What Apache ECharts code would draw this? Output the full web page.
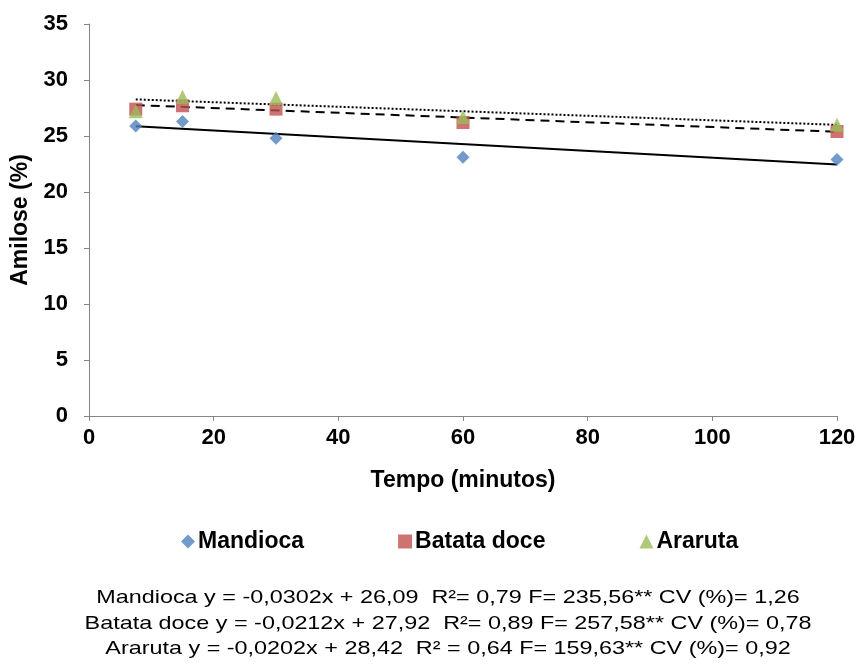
<!DOCTYPE html>
<html><head><meta charset="utf-8">
<script src="https://cdn.jsdelivr.net/npm/echarts@6/dist/echarts.min.js"></script>
<style>html,body{margin:0;padding:0;background:#fff}#c{width:859px;height:664px}</style>
</head><body><div id="c"></div>
<script>
const times = [7.5, 15, 30, 60, 120];
const mandioca = [25.9, 26.3, 24.8, 23.1, 22.9];
const batataDoce = [27.4, 27.7, 27.4, 26.2, 25.4];
const araruta = [27.2, 28.5, 28.4, 26.7, 26.0];
const seriesNames = ['Mandioca', 'Batata doce', 'Araruta'];
const slopes = [-0.0302, -0.0212, -0.0202];
const intercepts = [26.09, 27.92, 28.42];
const xTicks = [0, 20, 40, 60, 80, 100, 120];
const yTicks = [0, 5, 10, 15, 20, 25, 30, 35];
const equations = [
  'Mandioca y = -0,0302x + 26,09  R²= 0,79 F= 235,56** CV (%)= 1,26',
  'Batata doce y = -0,0212x + 27,92  R²= 0,89 F= 257,58** CV (%)= 0,78',
  'Araruta y = -0,0202x + 28,42  R² = 0,64 F= 159,63** CV (%)= 0,92'
];

const FONT = "'Liberation Sans', Arial, sans-serif";
const colors = ['#4F81BD', '#C0504D', '#9BBB59'];
const symbols = ['diamond', 'rect', 'triangle'];
const symSizes = [13, 13, 14];
const lineTypes = ['solid', [9, 6], [2, 2]];
const values = [mandioca, batataDoce, araruta];

const series = [];
values.forEach((v, i) => {
  series.push({
    name: seriesNames[i], type: 'scatter', symbol: symbols[i], symbolSize: symSizes[i],
    itemStyle: { color: colors[i] }, z: 3,
    data: times.map((t, j) => [t, v[j]])
  });
});
values.forEach((v, i) => {
  const x0 = times[0], x1 = times[times.length - 1];
  series.push({
    name: seriesNames[i] + ' trend', type: 'line', symbol: 'none', silent: true, z: 2,
    lineStyle: { color: '#000', width: 2, type: lineTypes[i] },
    data: [[x0, slopes[i] * x0 + intercepts[i]], [x1, slopes[i] * x1 + intercepts[i]]]
  });
});

const chart = echarts.init(document.getElementById('c'), null, { renderer: 'canvas' });
chart.setOption({
  animation: false,
  backgroundColor: '#fff',
  grid: { left: 89, right: 22, top: 24, bottom: 248, containLabel: false, outerBoundsMode: 'none' },
  xAxis: {
    type: 'value', min: 0, max: 120, interval: 20,
    name: 'Tempo (minutos)', nameLocation: 'middle', nameGap: 53,
    nameTextStyle: { fontFamily: FONT, fontWeight: 'bold', fontSize: 23, color: '#000' },
    axisLine: { lineStyle: { color: '#868686', width: 1 } },
    axisTick: { show: true, length: 5, lineStyle: { color: '#868686' } },
    axisLabel: { fontFamily: FONT, fontWeight: 'bold', fontSize: 22, color: '#000', margin: 11,
      formatter: v => xTicks.includes(v) ? String(v) : '' },
    splitLine: { show: false }
  },
  yAxis: {
    type: 'value', min: 0, max: 35, interval: 5,
    name: 'Amilose (%)', nameLocation: 'middle', nameGap: 56, nameRotate: 90,
    nameTextStyle: { fontFamily: FONT, fontWeight: 'bold', fontSize: 23, color: '#000' },
    axisLine: { show: true, lineStyle: { color: '#868686', width: 1 } },
    axisTick: { show: true, length: 5, lineStyle: { color: '#868686' } },
    axisLabel: { fontFamily: FONT, fontWeight: 'bold', fontSize: 22, color: '#000', margin: 21,
      formatter: v => yTicks.includes(v) ? String(v) : '' },
    splitLine: { show: false }
  },
  legend: {
    data: seriesNames.map((n, i) => ({ name: n, icon: symbols[i] })),
    left: 176, top: 525, itemWidth: 14, itemHeight: 14, itemGap: 94,
    textStyle: { fontFamily: FONT, fontWeight: 'bold', fontSize: 23, color: '#000', padding: [0, 0, 0, -2] }
  },
  graphic: equations.map((t, i) => ({
    type: 'text', x: 448, y: 598 + i * 25.5, scaleX: 1.23, scaleY: 1,
    style: { text: t, fontFamily: FONT, fontSize: 19, fill: '#000', textAlign: 'center', textVerticalAlign: 'middle' }
  })),
  series
});
</script></body></html>
